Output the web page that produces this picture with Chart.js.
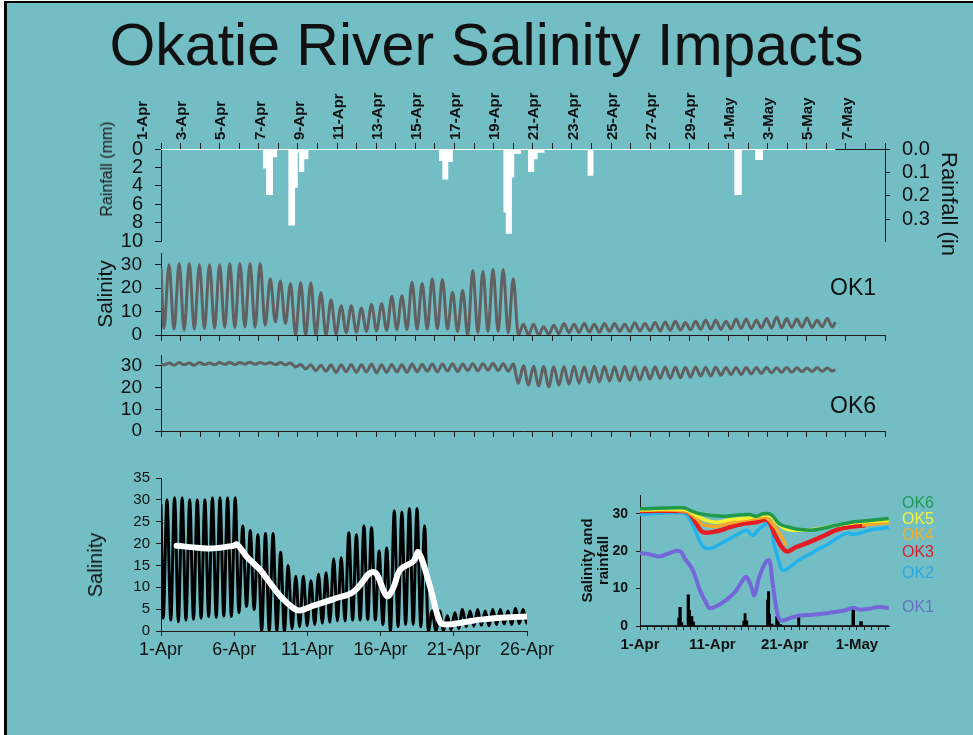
<!DOCTYPE html>
<html><head><meta charset="utf-8">
<script src="https://cdn.jsdelivr.net/npm/chart.js@4.4.0/dist/chart.umd.min.js"></script>
<style>
html,body{margin:0;padding:0;width:973px;height:735px;overflow:hidden;background:#fff;}
#slide{position:absolute;left:4px;top:1px;width:969px;height:734px;background:#72bec4;border-left:3px solid #000;border-top:2px solid #000;box-sizing:border-box;}
canvas{position:absolute;}
.t{position:absolute;font-family:"Liberation Sans",Arial,sans-serif;white-space:nowrap;line-height:1;color:#111;}
</style></head>
<body>
<div id="slide"></div>
<div class="t" style="left:0;width:973px;text-align:center;top:16px;font-size:59px;">Okatie River Salinity Impacts</div>
<canvas id="c1" width="973" height="262" style="left:0;top:0"></canvas>
<canvas id="c2" width="973" height="95" style="left:0;top:250px"></canvas>
<canvas id="c3" width="973" height="91" style="left:0;top:350px"></canvas>
<canvas id="c4" width="520" height="220" style="left:60px;top:455px"></canvas>
<canvas id="c5" width="340" height="190" style="left:560px;top:480px"></canvas>
<div class="t" style="left:107px;top:169px;font-size:16px;color:#1a1a1a;transform:translate(-50%,-50%) rotate(-90deg);">Rainfall (mm)</div>
<div style="position:absolute;left:935px;top:140px;width:38px;height:116px;overflow:hidden;">
  <div class="t" style="left:3px;top:12px;font-size:22px;writing-mode:vertical-rl;">Rainfall (in)</div>
</div>
<div class="t" style="left:95px;top:565px;font-size:20px;transform:translate(-50%,-50%) rotate(-90deg);">Salinity</div>
<div class="t" style="left:830px;top:276px;font-size:23px;">OK1</div>
<div class="t" style="left:830px;top:394px;font-size:23px;">OK6</div>
<div class="t" style="left:902px;top:495px;font-size:16px;color:#1f9a55;">OK6</div>
<div class="t" style="left:902px;top:511px;font-size:16px;color:#f2f23a;">OK5</div>
<div class="t" style="left:902px;top:527px;font-size:16px;color:#f0b02e;">OK4</div>
<div class="t" style="left:902px;top:544px;font-size:16px;color:#d9202a;">OK3</div>
<div class="t" style="left:902px;top:565px;font-size:16px;color:#2aa8e2;">OK2</div>
<div class="t" style="left:902px;top:599px;font-size:16px;color:#6a6fc4;">OK1</div>
<script>
// ---------------- DATA (days since 1-Apr 00:00) ----------------
const TOP_LABEL_DAYS = [0,2,4,6,8,10,12,14,16,18,20,22,24,26,28,30,32,34,36];
const TOP_LABELS = ['1-Apr','3-Apr','5-Apr','7-Apr','9-Apr','11-Apr','13-Apr','15-Apr','17-Apr','19-Apr','21-Apr','23-Apr','25-Apr','27-Apr','29-Apr','1-May','3-May','5-May','7-May'];
const LEFT_LABEL_DAYS = [0,5,10,15,20,25];
const LEFT_LABELS = ['1-Apr','6-Apr','11-Apr','16-Apr','21-Apr','26-Apr'];
const RIGHT_LABEL_DAYS = [0,10,20,30];
const RIGHT_LABELS = ['1-Apr','11-Apr','21-Apr','1-May'];

// rainfall (mm), step values starting at each day
const rainDay = [0, 5.27, 5.42, 5.67, 5.88, 6.56, 6.80, 6.94, 7.10, 7.27, 7.48, 14.26, 14.43, 14.63, 14.86, 17.55, 17.67, 17.88, 18.0, 18.35, 18.81, 19.02, 19.2, 19.55, 21.85, 22.05, 29.35, 29.63, 30.42, 30.71, 34.46];
const rainMm  = [0, 2.0, 4.9, 0.8, 0, 8.2, 4.1, 0.3, 2.4, 1.0, 0, 1.2, 3.2, 1.3, 0, 6.8, 9.1, 3.0, 0.4, 0, 2.4, 1.0, 0.3, 0, 2.8, 0, 4.9, 0, 1.1, 0, 0];

// tidal extremes (first low ~0.15 d, then alternating high/low every half tide)
const TIDE_FIRST = 0.15, TIDE_HALF = 0.25875, TIDE_END = 34.46;
const ok1Start = 29, ok1End = 5.5;
const ok1Lows = [2.9,2.5,2.1,2.5,2.7,2.9,3.3,3.1,3.4,3.3,4.2,5.6,4.9,0,0,0,0,0.5,1.0,1.2,1.5,1.8,2.0,2.3,2.3,2.5,2.5,2.6,2.5,1.5,0,1.0,1.5,1.5,1.0,0,0,
  0,0.3,0.6,1.0,1.1,1.3,1.2,1.5,1.6,1.5,1.7,1.8,1.7,2.0,2.1,2.2,2.4,2.5,2.4,2.6,2.8,2.7,3.0,3.0,3.1,3.2,3.3,3.2,3.5,3.4];
const ok1Highs = [30,30.5,30.5,30,30,30,30.5,30.5,30.5,30.5,24,23,22,22.3,22.3,18,15,12.5,12.5,11.5,13,13.3,16.5,16.8,22.5,22,24,23.7,18.3,19,27.5,27.2,28,28,24,
  4.6,4.6,3.5,4.2,4.9,4.6,4.9,4.6,4.9,4.9,4.6,5.2,4.9,5.3,5.6,5.9,5.3,5.9,6.3,6.3,5.9,6.8,6.8,6.3,7.0,7.7,7.0,6.8,7.3,6.3,7.0];
const ok6Start = 31, ok6End = 28.3;
const ok6Lows = [30.4,30.3,30.5,30.3,30.6,30.5,30.7,30.6,30.8,30.7,30.8,30.6,30.5,
  29.5,28.6,27.8,27.5,27.0,27.3,27.0,27.2,26.8,27.0,27.2,27.0,27.3,27.5,27.2,27.6,27.4,27.8,27.7,28.0,27.8,27.5,22.0,21.2,
  20.8,20.4,21.1,21.5,22.0,22.4,22.6,23.0,23.0,23.4,23.5,23.9,24.2,24.2,24.5,24.8,25.3,25.3,25.7,26.0,26.0,26.3,26.5,26.8,27.0,27.0,27.3,27.4,27.5,27.6];
const ok6Highs = [31.3,31.5,31.3,31.5,31.3,31.5,31.6,31.5,31.7,31.6,31.6,31.5,31.3,
  30.6,30.5,30.3,30.5,30.5,30.6,30.5,30.8,30.5,30.6,30.5,30.8,30.7,30.9,30.8,31.0,30.8,31.0,31.0,31.2,31.0,30.8,
  30.0,29.8,29.7,29.6,29.7,29.8,29.6,29.8,29.7,29.6,29.7,29.6,29.5,29.6,29.5,29.5,29.4,29.5,29.3,29.4,29.3,29.3,29.2,29.3,29.2,29.1,29.2,29.1,29.0,29.1,29.0];

// OK1 daily mean (white line)
const meanDay = [1.07,2.67,3.58,4.95,5.2,5.86,6.31,6.77,7.22,8.14,9.05,9.5,10.41,11.78,13.15,14.52,15.43,15.88,16.34,17.25,17.59,18.39,19.07,19.53,20.67,21.81,22.95,25];
const meanVal = [19.5,19.0,18.9,19.5,19.8,17.0,15.5,14.0,12.0,8.0,5.2,4.7,5.8,7.3,9.0,13.5,8.0,10.0,14.0,16.0,18.0,10.0,2.0,1.5,2.0,2.6,3.0,3.3];

// Station means, lower-right panel
const s1Day = [0,1.4,2.8,4.1,5.5,6.2,7.3,8.3,9.2,9.6,10.6,11.9,13.3,14.2,14.7,15.4,15.8,16.5,17.4,17.9,18.3,19.0,19.5,20.6,22.0,23.9,26.1,28.4,29.4,30.3,31.7,33.0,34.4];
const s1Val = [19.5,19.1,18.6,19.5,20,18,14.9,9.5,6,4.8,5.3,6.9,9.5,12.2,13.1,10.4,8.2,13.1,17.1,17.5,12,3.3,1.5,2,2.8,3,3.5,4.2,4.9,4.4,4.6,5.1,4.8];
const s2Day = [0,5.5,6.65,7.8,8.7,9.6,11.0,13.3,14.7,15.6,16.5,17.9,18.6,19.3,19.7,20.6,22.0,23.4,24.8,26.1,28.4,29.8,31.7,33.0,34.4];
const s2Val = [29.8,30.3,29.3,24.7,21.3,20.7,21.8,24.3,25.6,24.2,26.0,27.3,21.3,16.7,14.9,15.6,17.7,19.1,20.7,22.0,24.7,24.5,25.6,26.0,26.4];
const s3Day = [0,6.0,6.9,7.8,8.7,10.6,12.4,14.2,15.1,16.1,17.4,17.9,18.8,20.2,21.6,23.4,25.2,27.1,29.4,31.2];
const s3Val = [30.7,30.7,30.0,27.3,25.1,25.3,26.4,27.3,27.5,27.8,28.4,27.8,23.8,20.0,21.1,22.4,23.9,25.6,26.6,26.9];
const s4Day = [0,6.2,7.8,8.7,10.6,12.4,14.2,16.1,17.4,18.1,19.3,20.2,20.3,30.7,34.4];
const s4Val = [30.9,30.7,28.7,27.1,26.6,27.5,28.2,28.7,29.0,27.8,24.7,21.5,null,27.0,27.6];
const s5Day = [0,6.2,7.8,9.2,10.6,12.4,14.2,16.1,17.9,18.8,19.7,20.6,22.5,24.8,27.1,29.4,31.7,34.4];
const s5Val = [31.1,31.1,29.6,28.2,27.7,28.4,28.7,29.3,29.6,27.8,26.4,25.7,25.6,26.0,26.9,27.5,28.0,28.2];
const s6Day = [0,6.0,6.9,8.3,9.6,11.5,13.3,15.1,16.1,17.0,18.1,19.3,20.6,22.5,24.3,27.1,29.4,31.7,34.4];
const s6Val = [31.3,31.6,30.9,30.0,29.6,29.3,29.6,29.8,29.3,30.0,29.8,27.3,26.4,25.7,25.7,26.9,27.8,28.2,28.7];

// ---------------- helpers ----------------
function pts(xs, ys){ return xs.map((x,i)=>({x:x, y:ys[i]})); }
function tide(start, lows, highs, endVal){
  const out=[{x:0,y:start}];
  const n = lows.length + highs.length;
  for(let k=0;k<n;k++){
    out.push({x: TIDE_FIRST + k*TIDE_HALF, y: (k%2===0) ? lows[k/2] : highs[(k-1)/2]});
  }
  out.push({x:TIDE_END, y:endVal});
  return out;
}
function range(a,b,s){ const r=[]; for(let v=a; v<=b+1e-9; v+=s) r.push(Math.round(v*1000)/1000); return r; }

Chart.defaults.font.family = '"Liberation Sans", Arial, sans-serif';
Chart.defaults.color = '#111';
Chart.defaults.animation = false;
Chart.defaults.responsive = false;
Chart.defaults.devicePixelRatio = 1;
Chart.defaults.plugins.legend.display = false;
Chart.defaults.plugins.tooltip.enabled = false;
Chart.defaults.elements.point.radius = 0;

const AX = '#1b1b1b';
function axis(o){
  return {
    type:'linear', position:o.pos, min:o.min, max:o.max, reverse:!!o.reverse,
    afterBuildTicks: s => { s.ticks = o.ticks.map(v=>({value:v})); },
    afterFit: s => {
      if (o.pos==='top'||o.pos==='bottom') s.height = o.fit; else s.width = o.fit;
      s.paddingTop = 0; s.paddingBottom = 0; s.paddingLeft = 0; s.paddingRight = 0;
    },
    ticks: {autoSkip:false, display: !!o.labels, font:o.font||{size:12}, padding:o.pad||0, color:'#111',
            minRotation:o.rot||0, maxRotation:o.rot||0, callback: v => o.labels ? o.labels(v) : ''},
    grid: {drawOnChartArea:false, drawTicks:true, tickLength:o.tl, color:AX, lineWidth:1},
    border: {display:true, color:AX, width:1},
    title: o.title || {display:false}
  };
}
const lab = (days, names) => v => { const i = days.indexOf(v); return i<0 ? '' : names[i]; };

const ok1 = tide(ok1Start, ok1Lows, ok1Highs, ok1End);
const ok6 = tide(ok6Start, ok6Lows, ok6Highs, ok6End);
const rain = pts(rainDay, rainMm);

// ---------------- Rainfall panel ----------------
new Chart(document.getElementById('c1'), {
  type:'line',
  data:{datasets:[{data:rain, stepped:'before', fill:'origin', backgroundColor:'#ffffff', borderColor:'#ffffff', borderWidth:2, yAxisID:'y'}]},
  options:{
    layout:{padding:{left:95,right:28,top:80,bottom:21}},
    scales:{
      x: axis({pos:'top',min:0,max:37,ticks:range(0,37,1),labels:lab(TOP_LABEL_DAYS,TOP_LABELS),rot:90,fit:69,tl:6,pad:3,font:{size:15,weight:'bold'}}),
      y: axis({pos:'left',min:0,max:10,reverse:true,ticks:[0,2,4,6,8,10],labels:v=>String(v),fit:66,tl:6,pad:12,font:{size:20}}),
      yin: axis({pos:'right',min:0,max:10/25.4,reverse:true,ticks:[0,0.1,0.2,0.3],labels:v=>v.toFixed(1),fit:60,tl:5,pad:12,font:{size:20}})
    }
  }
});

// ---------------- OK1 panel ----------------
new Chart(document.getElementById('c2'), {
  type:'line',
  data:{datasets:[{data:ok1, borderColor:'#616161', borderWidth:3, cubicInterpolationMode:'monotone'}]},
  options:{
    layout:{padding:{left:92,right:88,top:3,bottom:0}},
    scales:{
      x: axis({pos:'bottom',min:0,max:37,ticks:range(0,37,1),labels:null,fit:10,tl:6}),
      y: axis({pos:'left',min:0,max:35,ticks:[0,10,20,30],labels:v=>String(v),fit:69,tl:6,pad:13,font:{size:19},
               title:{display:true,text:'Salinity',font:{size:21},color:'#111',padding:{top:2,bottom:0}}})
    }
  }
});

// ---------------- OK6 panel ----------------
new Chart(document.getElementById('c3'), {
  type:'line',
  data:{datasets:[{data:ok6, borderColor:'#616161', borderWidth:3, cubicInterpolationMode:'monotone'}]},
  options:{
    layout:{padding:{left:92,right:88,top:5,bottom:0}},
    scales:{
      x: axis({pos:'bottom',min:0,max:37,ticks:range(0,37,1),labels:null,fit:10,tl:6}),
      y: axis({pos:'left',min:0,max:35,ticks:[0,10,20,30],labels:v=>String(v),fit:69,tl:6,pad:13,font:{size:19}})
    }
  }
});

// ---------------- Lower-left: OK1 with daily mean ----------------
new Chart(document.getElementById('c4'), {
  type:'line',
  data:{datasets:[
    {data:pts(meanDay,meanVal), borderColor:'#ffffff', borderWidth:6, tension:0.4, borderCapStyle:'round'},
    {data:ok1, borderColor:'#000000', borderWidth:3, cubicInterpolationMode:'monotone'}
  ]},
  options:{
    layout:{padding:{left:20,right:53,top:23,bottom:0}},
    scales:{
      x: axis({pos:'bottom',min:0,max:25,ticks:LEFT_LABEL_DAYS,labels:lab(LEFT_LABEL_DAYS,LEFT_LABELS),fit:44,tl:5,pad:3,font:{size:18}}),
      y: axis({pos:'left',min:0,max:35,ticks:range(0,35,5),labels:v=>String(v),fit:81,tl:5,pad:6,font:{size:15}})
    }
  }
});

// ---------------- Lower-right: all stations ----------------
const lw = (c,w)=>({borderColor:c, borderWidth:w, tension:0.4, spanGaps:false});
new Chart(document.getElementById('c5'), {
  type:'line',
  data:{datasets:[
    Object.assign({data:pts(s6Day,s6Val)}, lw('#1f9a4c',3.5)),
    Object.assign({data:pts(s5Day,s5Val)}, lw('#f4f230',3.5)),
    Object.assign({data:pts(s4Day,s4Val)}, lw('#f4a92a',3.5)),
    Object.assign({data:pts(s3Day,s3Val)}, lw('#e41c24',4.5)),
    Object.assign({data:pts(s2Day,s2Val)}, lw('#22b2ec',3.5)),
    Object.assign({data:pts(s1Day,s1Val)}, lw('#7468d8',4)),
    {data:rain, stepped:'before', fill:'origin', backgroundColor:'#000', borderColor:'#000', borderWidth:1.5}
  ]},
  options:{
    layout:{padding:{left:18,right:10.5,top:15,bottom:0}},
    scales:{
      x: axis({pos:'bottom',min:0,max:34.5,ticks:range(0,34,1),labels:lab(RIGHT_LABEL_DAYS,RIGHT_LABELS),fit:44,tl:4,pad:6,font:{size:15,weight:'bold'}}),
      y: axis({pos:'left',min:0,max:35,ticks:[0,10,20,30],labels:v=>String(v),fit:62,tl:4,pad:8,font:{size:14,weight:'bold'},
               title:{display:true,text:['Salinity and','rainfall'],font:{size:15,weight:'bold',lineHeight:1.05},color:'#111',padding:{top:2,bottom:0}}})
    }
  }
});
</script>
</body></html>
